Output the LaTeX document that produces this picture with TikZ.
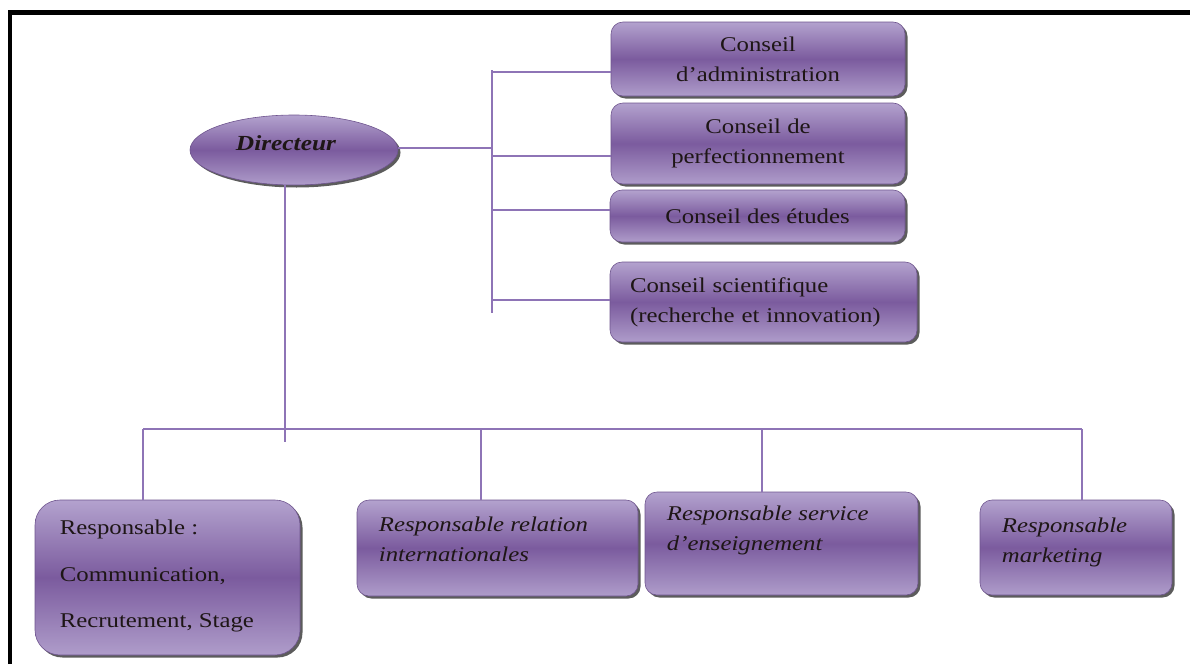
\documentclass[tikz,border=0pt]{standalone}
\usepackage{fontspec}
\setmainfont{Liberation Serif}
\newfontfamily\boxfont[FakeStretch=1.18]{Liberation Serif}
\usetikzlibrary{shadows,shapes.geometric}

\definecolor{boxlight}{HTML}{B3A2CE}
\definecolor{boxdark}{HTML}{7B5B9E}
\definecolor{boxedge}{HTML}{6E548E}
\definecolor{linkcol}{HTML}{8E74B6}
\definecolor{inkcol}{HTML}{1E1616}

\begin{document}
\begin{tikzpicture}[x=1pt,y=-1pt,
  panel/.style={rounded corners=#1, top color=boxlight, bottom color=boxlight!92!boxdark,
    middle color=boxdark, draw=boxedge, line width=0.6pt, inner sep=0pt,
    drop shadow={shadow xshift=2.5pt, shadow yshift=-2.5pt, fill=black!80, opacity=0.8}},
  panel/.default=12pt,
  oval/.style={ellipse, top color=boxlight, bottom color=boxlight!92!boxdark,
    middle color=boxdark, draw=boxedge, line width=0.6pt, inner sep=0pt,
    drop shadow={shadow xshift=2.5pt, shadow yshift=-2.5pt, fill=black!80, opacity=0.8}},
  upright/.style={text=inkcol, font=\boxfont\fontsize{21}{30}\selectfont},
  slanted/.style={text=inkcol, inner sep=0pt, align=left,
    font=\boxfont\itshape\fontsize{21}{30}\selectfont},
  link/.style={draw=linkcol, line width=1.4pt}]

\useasboundingbox (0,0) rectangle (1190,664);

% page frame (top and left rules)
\draw[line width=4.5pt, black] (10,664) -- (10,12.5) -- (1190,12.5);

% anchor points of the connector lines
\coordinate (rt) at (492,148);
\coordinate (rtop) at (492,70);
\coordinate (rbot) at (492,313);
\coordinate (t1) at (492,72);
\coordinate (t2) at (492,156);
\coordinate (t3) at (492,210);
\coordinate (t4) at (492,300);
\coordinate (vb) at (285,442);
\coordinate (d1) at (143,429);
\coordinate (d2) at (481,429);
\coordinate (d3) at (762,429);
\coordinate (d4) at (1082,429);

% director
\node[oval, minimum width=208pt, minimum height=70pt] (dir) at (294,150) {};
\node[text=inkcol, inner sep=0pt, font=\boxfont\bfseries\itshape\fontsize{21.5}{26}\selectfont]
  (dirt) at (286,143) {Directeur};

% councils
\node[panel, upright, align=center, minimum width=294pt, minimum height=74pt]
  (c1) at (758,59) {Conseil\\d’administration};
\node[panel, upright, align=center, minimum width=294pt, minimum height=81pt]
  (c2) at (758,143.5) {Conseil de\\perfectionnement};
\node[panel, upright, align=center, minimum width=295pt, minimum height=52pt]
  (c3) at (757.5,216) {Conseil des études};
\node[panel, upright, align=left, text width=267pt, minimum width=307pt, minimum height=80pt]
  (c4) at (763.5,302) {Conseil scientifique\\(recherche et innovation)};

% managers
\node[panel=25pt, minimum width=265pt, minimum height=155pt] (b1) at (167.5,577.5) {};
\node[panel, minimum width=281pt, minimum height=96pt] (b2) at (497.5,548) {};
\node[panel, minimum width=273pt, minimum height=103pt] (b3) at (781.5,543.5) {};
\node[panel, minimum width=192pt, minimum height=95pt] (b4) at (1076,547.5) {};

\node[upright, inner sep=0pt, align=left, anchor=north west,
  font=\boxfont\fontsize{21}{46.5}\selectfont]
  (b1t) at ([shift={(25,20.5)}]b1.north west) {Responsable :\\Communication,\\Recrutement, Stage};
\node[slanted, anchor=north west] (b2t) at ([shift={(22,17)}]b2.north west)
  {Responsable relation\\internationales};
\node[slanted, anchor=north west] (b3t) at ([shift={(22,14.5)}]b3.north west)
  {Responsable service\\d’enseignement};
\node[slanted, anchor=north west] (b4t) at ([shift={(22,18.5)}]b4.north west)
  {Responsable\\marketing};

% connectors: director to councils
\draw[link] (dir.east |- rt) -- (rt);
\draw[link] (rtop) -- (rbot);
\draw[link] (t1) -- (t1 -| c1.west);
\draw[link] (t2) -- (t2 -| c2.west);
\draw[link] (t3) -- (t3 -| c3.west);
\draw[link] (t4) -- (t4 -| c4.west);

% connectors: director to managers
\draw[link] (vb |- dir.south) -- (vb);
\draw[link] (d1) -- (d4);
\draw[link] (d1) -- (d1 |- b1.north);
\draw[link] (d2) -- (d2 |- b2.north);
\draw[link] (d3) -- (d3 |- b3.north);
\draw[link] (d4) -- (d4 |- b4.north);
\end{tikzpicture}
\end{document}
